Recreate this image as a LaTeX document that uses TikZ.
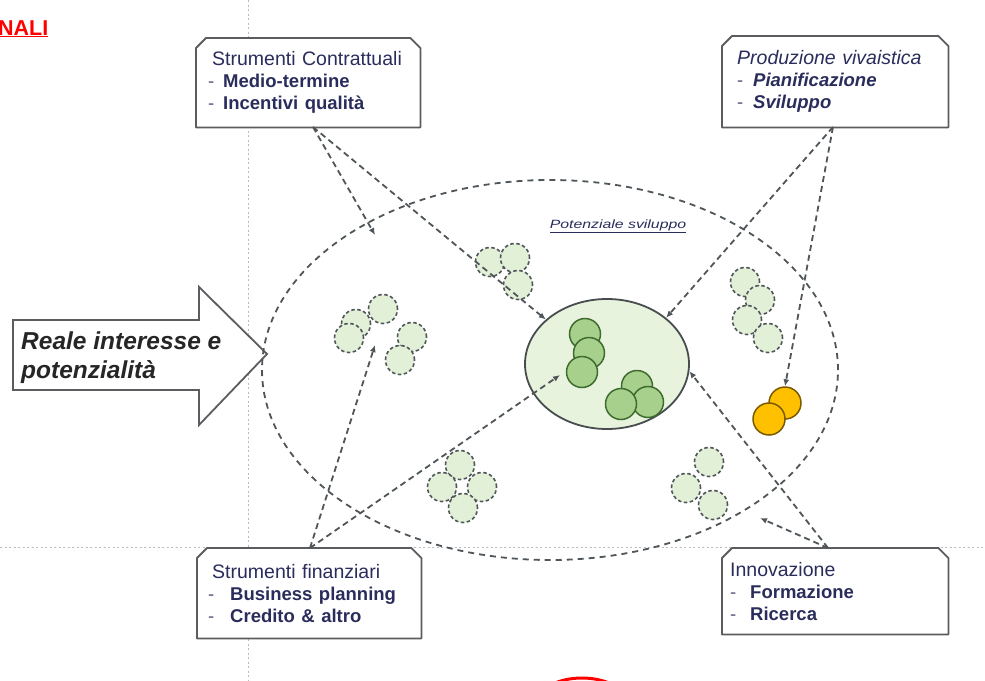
\documentclass[tikz,border=0pt]{standalone}
\usepackage{fontspec}
\setmainfont{Liberation Sans}
\usepackage{graphicx}
\usetikzlibrary{shapes.geometric,arrows.meta,calc}
\definecolor{navy}{HTML}{2A2D5C}
\definecolor{lgreen}{HTML}{E3F0D8}
\definecolor{igreen}{HTML}{E8F3DE}
\definecolor{mgreen}{HTML}{A8D08D}
\definecolor{dgreen}{HTML}{3E6B2E}
\definecolor{dline}{HTML}{4F5558}
\definecolor{guide}{HTML}{B8BCC0}
\definecolor{orangeY}{HTML}{FFC000}
\definecolor{orangeD}{HTML}{7A5B00}
\definecolor{boxline}{HTML}{5C5C60}
\pgfdeclarelayer{bg}
\pgfsetlayers{bg,main}
\newcommand{\chamferbox}[1]{%
  \filldraw[draw=boxline,fill=white,line width=1.8pt,line join=round]
    (#1.south west) -- ($(#1.north west)+(0,10)$) -- ($(#1.north west)+(10,0)$)
    -- ($(#1.north east)+(-10,0)$) -- ($(#1.north east)+(0,10)$)
    -- (#1.south east) -- cycle;}
\newcommand{\itemfont}{\fontsize{18.5}{22}\selectfont\bfseries}
\newcommand{\bul}[1]{\makebox[#1][l]{\mdseries\upshape\textcolor{navy!80}{-}}}
\begin{document}
\begin{tikzpicture}[x=1pt,y=-1pt,
  infobox/.style={rectangle,anchor=north west,align=left,text=navy,
    font=\fontsize{19.5}{22}\selectfont,inner ysep=0pt},
  dcirc/.style={circle,minimum size=29pt,inner sep=0pt,draw=dline,
    dash pattern=on 3.5pt off 2.5pt,line width=1.6pt,fill=lgreen},
  scirc/.style={circle,minimum size=31pt,inner sep=0pt,draw=dgreen,
    line width=1.5pt,fill=mgreen},
  ocirc/.style={circle,minimum size=32pt,inner sep=0pt,draw=orangeD,
    line width=1.5pt,fill=orangeY},
  conn/.style={draw=dline,line width=1.8pt,dash pattern=on 6pt off 4pt,
    -{Latex[length=7pt,width=6pt]}},
  guideline/.style={draw=guide,line width=1pt,dash pattern=on 2pt off 2.5pt}]
\useasboundingbox (0,0) rectangle (985,680);

% boxes (text nodes)
\node[infobox,minimum width=224pt,minimum height=89pt,text width=192pt,inner xsep=16pt] (tl) at (196,38)
  {Strumenti Contrattuali\\{\itemfont\hspace*{-4pt}\bul{15pt}Medio-termine}\\{\itemfont\hspace*{-4pt}\bul{15pt}Incentivi qualità}};
\node[infobox,minimum width=226pt,minimum height=91pt,text width=196pt,inner xsep=15pt,font=\fontsize{19.5}{22}\selectfont\itshape] (tr) at (722,36)
  {Produzione vivaistica\\{\itemfont\bul{16pt}Pianificazione}\\{\itemfont\bul{16pt}Sviluppo}};
\node[infobox,minimum width=224pt,minimum height=90pt,text width=194pt,inner xsep=15pt] (bl) at (197,548)
  {Strumenti finanziari\\{\itemfont\hspace*{-4pt}\bul{22pt}Business planning}\\{\itemfont\hspace*{-4pt}\bul{22pt}Credito \& altro}};
\node[infobox,minimum width=226pt,minimum height=86pt,text width=210pt,inner xsep=8pt] (br) at (722,548)
  {Innovazione\\{\itemfont\bul{20pt}Formazione}\\{\itemfont\bul{20pt}Ricerca}};

\begin{pgfonlayer}{bg}
  \fill[white] (0,0) rectangle (985,680);
  \draw[guideline] (248,0) -- (248,680);
  \draw[guideline] (0,547) -- (985,547);
  \chamferbox{tl}
  \chamferbox{tr}
  \chamferbox{bl}
  \chamferbox{br}
\end{pgfonlayer}

% title fragment
\node[anchor=base west,inner sep=0pt,font=\fontsize{21.5}{24}\selectfont\bfseries,text=red] (nali) at (-2,35) {\underline{NALI}};

% big arrow
\filldraw[draw=boxline,fill=white,line width=1.8pt,line join=miter]
  (13,320) -- (199,320) -- (199,287) -- (267,354) -- (199,425) -- (199,390) -- (13,390) -- cycle;
\node[anchor=west,align=left,inner sep=0pt,text=black!85,
  font=\fontsize{24.5}{29}\selectfont\bfseries\itshape] (reale) at (21,358)
  {Reale interesse e\\potenzialità};

% big ellipse and inner ellipse
\node[ellipse,draw=dline,line width=1.8pt,dash pattern=on 6pt off 5pt,
  minimum width=576pt,minimum height=380pt,inner sep=0pt] (big) at (550,370) {};
\node[ellipse,draw=dline!90!black,line width=1.8pt,fill=igreen,
  minimum width=164pt,minimum height=130pt,inner sep=0pt] (inner) at (607,364) {};
\node[text=navy,font=\fontsize{12}{14}\selectfont\itshape] (pot) at (618,226)
  {\scalebox{1.32}[1]{\underline{Potenziale sviluppo}}};

% solid circles
\node[scirc] (s1) at (585,334) {};
\node[scirc] (s2) at (589,353) {};
\node[scirc] (s3) at (582,372) {};
\node[scirc] (s4) at (637,386) {};
\node[scirc] (s5) at (648,402) {};
\node[scirc] (s6) at (621,404) {};

% dashed circle groups
\node[dcirc] (a1) at (490,262) {};
\node[dcirc] (a2) at (515,258) {};
\node[dcirc] (a3) at (518,285) {};

\node[dcirc] (b1) at (383,309) {};
\node[dcirc] (b2) at (356,324) {};
\node[dcirc] (b3) at (349,338) {};
\node[dcirc] (b4) at (412,337) {};
\node[dcirc] (b5) at (400,360) {};

\node[dcirc] (c1) at (745,282) {};
\node[dcirc] (c2) at (760,300) {};
\node[dcirc] (c3) at (747,320) {};
\node[dcirc] (c4) at (768,338) {};

\node[dcirc] (d1) at (460,465) {};
\node[dcirc] (d2) at (442,487) {};
\node[dcirc] (d3) at (482,487) {};
\node[dcirc] (d4) at (463,508) {};

\node[dcirc] (e1) at (709,462) {};
\node[dcirc] (e2) at (686,488) {};
\node[dcirc] (e3) at (713,505) {};

% orange circles
\node[ocirc] (o1) at (785,403) {};
\node[ocirc] (o2) at (769,419) {};

% connector end points
\coordinate (tlS) at (313,127);
\coordinate (trS) at (833,127);
\coordinate (blS) at (310,548);
\coordinate (brS) at (828,548);
\coordinate (bigTL) at (375,235);
\coordinate (bigBR) at (760,518);
\coordinate (grpB) at (375,345);
\coordinate (innerL) at (560,375);

\draw[conn] (tlS) -- (bigTL);
\draw[conn] (tlS) -- (inner.144);
\draw[conn] (trS) -- (inner.38);
\draw[conn] (trS) -- (o1.north);
\draw[conn] (blS) -- (grpB);
\draw[conn] (blS) -- (innerL);
\draw[conn] (brS) -- (inner.-5);
\draw[conn] (brS) -- (bigBR);

% red shape at bottom edge
\draw[red,line width=3pt] (582,702) ellipse [x radius=44, y radius=24];
\end{tikzpicture}
\end{document}
